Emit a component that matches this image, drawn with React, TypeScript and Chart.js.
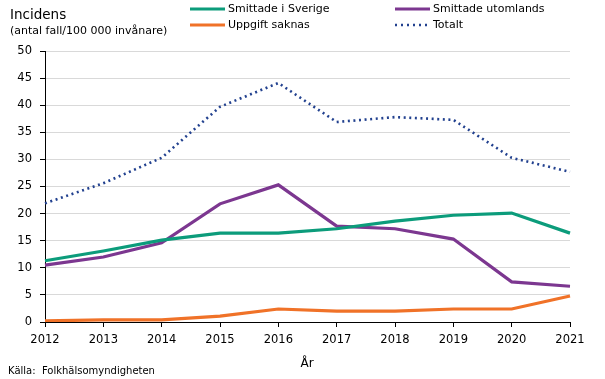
import React, { useEffect, useRef } from "react";
import { Chart, registerables } from "chart.js";

Chart.register(...registerables);

const years = ["2012", "2013", "2014", "2015", "2016", "2017", "2018", "2019", "2020", "2021"];
const sverige = [11.3, 13.1, 15.1, 16.4, 16.4, 17.2, 18.6, 19.7, 20.1, 16.4];
const utomlands = [10.5, 12.0, 14.6, 21.8, 25.3, 17.7, 17.2, 15.3, 7.4, 6.6];
const saknas = [0.2, 0.4, 0.4, 1.1, 2.4, 2.0, 2.0, 2.4, 2.4, 4.8];
const totalt = [21.9, 25.6, 30.3, 39.7, 44.1, 36.9, 37.8, 37.3, 30.3, 27.7];

const FONT = "'DejaVu Sans', Verdana, sans-serif";
const C_GREEN = "#0c9c7b";
const C_PURPLE = "#7c3790";
const C_ORANGE = "#f07228";
const C_NAVY = "#22418f";

const legendItems = [
  { label: "Smittade i Sverige", color: C_GREEN, dotted: false, x: 190, y: 9 },
  { label: "Smittade utomlands", color: C_PURPLE, dotted: false, x: 395, y: 9 },
  { label: "Uppgift saknas", color: C_ORANGE, dotted: false, x: 190, y: 25 },
  { label: "Totalt", color: C_NAVY, dotted: true, x: 395, y: 25 },
];

const decorPlugin = {
  id: "decor",
  afterDraw(chart: any) {
    const ctx = chart.ctx;
    ctx.save();
    ctx.fillStyle = "#000";
    ctx.textBaseline = "middle";
    ctx.textAlign = "left";
    ctx.font = `13.5px ${FONT}`;
    ctx.fillText("Incidens", 10, 15);
    ctx.font = `11px ${FONT}`;
    ctx.fillText("(antal fall/100 000 invånare)", 10, 31);
    ctx.font = `11px ${FONT}`;
    for (const it of legendItems) {
      ctx.strokeStyle = it.color;
      ctx.lineWidth = it.dotted ? 2.5 : 3;
      ctx.setLineDash(it.dotted ? [2, 4] : []);
      ctx.beginPath();
      ctx.moveTo(it.x, it.y);
      ctx.lineTo(it.x + 35, it.y);
      ctx.stroke();
      ctx.setLineDash([]);
      ctx.fillStyle = "#000";
      ctx.fillText(it.label, it.x + 38, it.y + 0.5);
    }
    ctx.font = `12px ${FONT}`;
    ctx.textAlign = "center";
    ctx.fillText("År", 307, 364);
    ctx.textAlign = "left";
    ctx.font = `10px ${FONT}`;
    ctx.fillText("Källa:  Folkhälsomyndigheten", 8, 371);
    ctx.restore();
  },
};

export default function App() {
  const ref = useRef<HTMLCanvasElement | null>(null);
  useEffect(() => {
    document.body.style.margin = "0";
    const canvas = ref.current!;
    const chart = new Chart(canvas, {
      type: "line",
      data: {
        labels: years,
        datasets: [
          { label: "Smittade i Sverige", data: sverige, borderColor: C_GREEN, borderWidth: 3.2, pointRadius: 0, tension: 0 },
          { label: "Smittade utomlands", data: utomlands, borderColor: C_PURPLE, borderWidth: 3.2, pointRadius: 0, tension: 0 },
          { label: "Uppgift saknas", data: saknas, borderColor: C_ORANGE, borderWidth: 3.2, pointRadius: 0, tension: 0 },
          { label: "Totalt", data: totalt, borderColor: C_NAVY, borderWidth: 2.6, borderDash: [2, 3.6], pointRadius: 0, tension: 0 },
        ],
      },
      options: {
        responsive: false,
        animation: false,
        layout: { padding: { left: 0, right: 35, top: 51, bottom: 0 } },
        plugins: { legend: { display: false }, tooltip: { enabled: false }, title: { display: false } },
        scales: {
          x: {
            offset: false,
            grid: { drawOnChartArea: false, drawTicks: true, tickLength: 5, tickColor: "#000" },
            border: { display: true, color: "#000", width: 1 },
            ticks: { color: "#000", font: { family: FONT, size: 11.5 }, padding: 6, maxRotation: 0, autoSkip: false },
            afterFit(scale: any) { scale.height = 57; },
          },
          y: {
            min: 0,
            max: 50,
            grid: { color: "#d9d9d9", lineWidth: 1, drawTicks: true, tickLength: 5, tickColor: "#000" },
            border: { display: true, color: "#000", width: 1 },
            ticks: { stepSize: 5, color: "#000", font: { family: FONT, size: 11.5 }, padding: 8 },
            afterFit(scale: any) { scale.width = 45; },
          },
        },
      },
      plugins: [decorPlugin],
    });
    return () => chart.destroy();
  }, []);
  return <canvas ref={ref} width={605} height={379} style={{ display: "block" }} />;
}
